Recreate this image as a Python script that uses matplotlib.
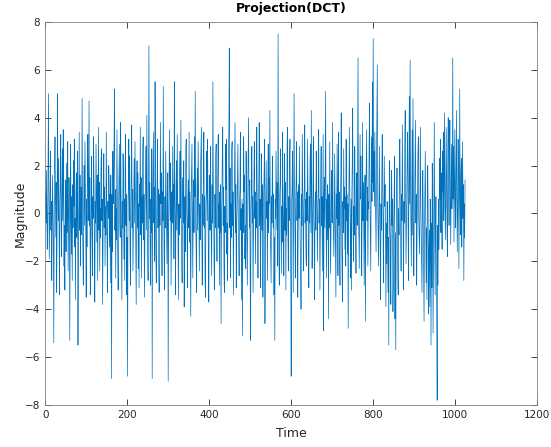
import numpy as np
import matplotlib
matplotlib.use("Agg")
import matplotlib.pyplot as plt

# 1. data (32 samples per row)
magnitude = [
    0.9, -0.4, 1.8, 0.3, -1.5, -0.6, 2.4, 5.0, 0.8, -1.9, -0.2, 1.1, 2.6, -0.7, 0.5, -2.8,
    -0.9, 1.6, 0.2, -1.3, -5.4, -0.5, 2.0, 3.2, 0.6, -1.0, 1.3, -3.3, -0.8, 5.0, 1.7, -0.3,
    2.3, -1.1, -3.4, 0.4, 1.2, 3.3, -0.6, -1.8, 0.9, 2.7, -0.3, 3.5, 1.0, -2.2, -0.5, -3.2,
    1.4, 0.2, -1.6, 2.1, -0.8, 0.6, 3.0, -2.4, -0.4, 1.5, 0.8, -5.3, -1.2, 2.9, 0.1, -1.7,
    0.7, -2.8, 1.2, -0.6, 2.2, 0.3, 3.1, -1.4, -0.2, -3.6, 0.9, 1.7, -1.0, 0.4, 2.6, -5.5,
    -1.3, 0.5, 3.4, -0.7, 1.6, -2.2, 0.1, 1.1, -0.9, 4.8, 0.6, -1.8, -3.0, 0.3, 2.0, -0.5,
    3.0, 1.2, -0.8, -3.5, 0.6, -1.4, 1.9, 3.3, -0.3, 0.8, 4.7, -0.5, 1.5, -3.4, -1.1, 0.2,
    2.4, -0.9, -2.6, 0.7, -0.2, 3.2, 1.3, -1.6, -3.7, 0.5, -0.4, 2.9, 0.9, -1.2, 1.6, -2.8,
    0.4, 3.6, -0.7, 1.3, -2.4, 0.2, -1.0, 1.8, 2.7, -0.3, 0.6, -3.8, -1.2, 0.9, 2.5, -0.6,
    1.1, -2.2, 0.3, -0.9, 3.4, 0.7, -1.5, -3.3, 0.5, -0.2, 2.0, 1.2, -1.4, 0.8, -2.9, 1.6,
    -0.5, -6.9, 0.8, -1.6, 2.6, 0.4, 1.4, 3.0, 5.2, -0.7, 1.0, -2.7, 0.2, -1.1, 3.5, 0.6,
    -1.8, -3.2, 0.3, 1.7, 2.9, -0.4, -1.0, 3.8, 0.9, -1.2, -3.6, 0.5, -0.6, 2.5, 1.1, -1.9,
    0.6, -2.8, 1.9, 3.3, -0.5, 0.8, -3.4, -1.0, -6.8, 0.4, 1.2, 3.1, -0.3, 2.4, -1.5, -3.0,
    0.2, 1.7, 3.7, -0.6, 1.0, -2.4, -0.8, 0.6, 2.3, -0.4, 3.0, 0.9, -1.3, -3.8, 0.5, 2.2,
    -0.6, 1.7, -2.3, 0.4, -3.1, 1.2, 0.3, 3.6, -0.9, 1.5, -2.7, 0.7, -0.4, 2.5, 3.2, -1.1,
    0.8, -3.5, -1.2, 0.5, 1.5, 2.8, -0.7, 4.1, 0.3, -1.6, -2.8, 0.9, 7.0, -0.2, 1.3, -1.6,
    -3.0, 0.6, -0.8, 2.7, -6.9, 0.5, 1.8, 3.4, -0.4, 1.1, -2.0, 5.5, 0.7, -1.7, -2.9, 0.3,
    1.4, 3.1, -0.6, 1.0, -2.2, -3.3, 0.8, -0.5, 3.8, 0.4, 1.7, -1.4, -2.6, 0.9, -0.3, 5.3,
    0.5, -1.8, -3.2, 0.7, -0.6, 2.6, 1.0, -0.9, -2.1, 0.8, 1.7, -7.0, -0.8, 0.6, 3.5, 1.4,
    -0.3, 2.1, -3.0, -1.1, 0.9, -0.4, 2.8, 0.3, 1.2, -1.9, 5.5, 0.6, -0.5, -3.4, 1.0, 2.2,
    -0.7, 3.3, 0.9, -1.3, -3.6, 0.4, -0.9, 1.7, 2.6, -0.2, 3.9, 0.6, -1.8, -2.9, 0.5, 1.5,
    -0.4, 2.2, -3.9, -0.8, 0.7, -1.6, 2.7, 3.1, 0.2, -0.5, -3.1, 0.8, 1.4, -0.6, 3.4, -1.2,
    0.9, -2.0, -4.3, 0.6, 1.8, 2.9, -0.5, -2.7, 0.3, 1.4, -0.8, 3.2, 0.7, 5.1, -0.4, -1.2,
    -3.3, 0.5, 1.9, -0.7, 3.0, 1.3, -0.3, -2.4, 0.4, -1.1, 1.9, 2.7, 3.6, -0.6, -3.0, 0.8,
    -0.5, 2.2, 3.4, -0.6, 0.7, -2.9, -3.5, 0.4, 1.0, 2.6, -0.3, 3.1, 0.9, -2.1, -3.7, 0.2,
    1.6, -0.7, 2.8, 0.5, -0.9, -2.6, 1.2, -0.4, 5.5, 1.1, 0.3, -2.3, -3.2, 0.8, -0.6, 2.4,
    2.9, -0.4, -2.0, 0.7, 1.8, 3.3, -0.6, 0.4, -3.0, 0.9, -0.8, 1.2, -4.6, -0.3, 0.6, 2.5,
    3.6, -0.5, 1.1, -2.2, -3.3, 0.3, -0.8, 2.9, 1.0, 3.1, -1.7, -0.4, -2.8, 0.7, 2.6, 3.5,
    6.9, -0.6, 1.9, -2.7, 0.4, -1.0, 2.7, 3.0, -0.5, 0.9, -3.4, -0.3, 0.7, 2.3, 3.8, -0.8,
    1.2, -3.1, -0.6, 0.3, 1.6, 2.9, -0.4, -1.2, -2.6, 0.5, 1.0, 3.4, -0.7, 0.2, -3.6, 0.6,
    -5.1, 0.4, -0.8, 3.2, 0.9, 1.6, -1.9, -0.5, -2.3, 2.6, 0.3, -1.3, -3.0, 0.6, 2.1, 4.0,
    0.8, -0.6, 1.4, -2.9, -5.3, 0.2, 1.1, 2.8, -0.4, 0.7, -3.3, -0.9, 1.3, 3.0, -0.2, 0.9,
    -2.1, 0.5, -0.6, 3.6, 1.0, -0.3, -2.7, 0.8, 1.4, 3.8, -0.5, 0.6, -3.1, -1.0, 2.5, 0.3,
    -0.7, 1.2, -3.5, -0.4, 0.9, 1.8, 3.1, -4.6, -0.6, 0.8, 2.2, -0.2, 0.5, -2.8, 1.3, 2.9,
    -0.8, 1.5, 0.4, 4.3, -0.5, -1.8, -2.9, 0.7, -0.4, 2.4, 1.1, -0.6, 0.8, -3.4, -1.0, -5.3,
    0.6, -0.2, 2.6, 0.9, -0.7, 1.3, -2.2, 7.5, 0.5, -1.9, -3.0, 0.8, 1.4, 2.7, -0.5, -2.5,
    0.3, -1.2, 3.4, 0.6, -0.4, -2.6, 0.9, 2.5, -0.7, 1.3, -3.2, 0.2, -0.9, 2.9, 3.6, -0.5,
    -2.4, 0.7, -0.3, 2.2, 3.1, -0.6, -2.8, -6.8, 0.4, 1.0, 2.6, -0.8, -3.3, 0.5, 5.0, 0.8,
    -0.5, -2.7, 0.6, 1.4, 3.0, -0.3, 0.9, -3.5, -0.6, 1.2, -0.2, 2.8, 0.7, -1.4, -2.1, -4.0,
    0.8, -0.5, 3.3, 1.0, -0.7, -2.4, 0.4, 1.1, 3.7, -0.4, 0.6, -1.8, -2.2, 0.9, -0.3, 3.1,
    0.5, -1.9, -3.1, 0.7, -0.4, 2.2, 2.9, -0.8, 4.3, 0.6, -2.3, -0.5, 0.8, 3.2, -0.3, -1.0,
    -3.6, 0.4, 0.9, -0.7, 2.6, 1.2, -0.6, -2.0, 0.3, 1.0, 3.5, -0.4, 0.6, -3.2, -0.9, 1.4,
    2.8, -0.5, 0.7, -2.4, 0.3, 3.3, -4.9, 0.5, 1.5, -0.6, 2.4, 5.1, -0.2, -2.7, 0.6, -1.1,
    1.2, -0.3, -4.4, 0.8, -0.6, 3.0, 0.4, -2.5, -0.7, 0.9, 1.8, -0.4, 3.8, 0.3, -0.9, -1.8,
    -0.6, 2.5, 0.4, -1.3, -3.5, 0.8, -0.2, 2.9, 0.6, -2.6, 3.4, -0.5, 0.9, -1.9, -3.0, 0.3,
    1.6, 4.2, -0.4, -2.4, -3.7, 0.5, -0.8, 2.7, 0.2, 1.1, -1.5, 0.7, -2.2, 3.1, -0.3, 0.8,
    -1.7, 0.4, -4.8, -0.3, 1.9, 3.6, 0.5, -0.8, -2.7, 0.6, -3.2, 0.9, 2.3, 4.4, -0.6, -2.0,
    0.3, -0.9, 2.8, 0.5, -0.4, -2.5, 0.8, 1.7, -0.5, 3.0, 6.5, 0.3, -1.1, -2.3, 0.9, 3.3,
    0.6, 2.4, -0.5, -2.6, 0.9, 3.8, -0.3, 1.3, -0.6, -3.0, 0.4, 1.6, -4.5, 0.7, 2.2, 3.5,
    -0.3, 1.1, -2.2, 0.5, 0.2, 2.9, 4.6, 0.8, -0.8, -2.4, 1.0, 3.2, 0.5, 5.5, 1.3, 7.3,
    0.9, 2.6, 0.3, 3.4, 1.2, -0.4, -1.6, 2.0, 4.1, 6.2, 0.5, -0.9, -2.2, 0.6, 2.8, 0.2,
    -1.4, -3.6, 0.4, -0.7, 1.7, 3.3, 0.9, -0.5, -2.9, 0.6, 2.4, 0.3, 1.2, -0.8, -3.9, -0.4,
    -2.1, 0.5, -0.6, -3.3, -1.0, -5.5, 0.4, 2.2, -0.7, -1.2, -3.8, 0.3, 1.8, -0.5, 0.6, -4.1,
    -3.0, -0.4, 0.7, 2.4, -4.4, -0.8, -5.7, -1.3, 0.6, 1.9, -0.3, -2.7, -3.4, 0.2, -0.9, 2.6,
    3.1, 0.4, -0.6, -2.4, 0.8, -0.3, 3.7, 0.9, -0.7, -3.2, 0.5, -0.4, 2.9, 4.3, 0.6, -2.1,
    -0.6, 0.8, 2.5, 3.4, -0.2, -2.8, 0.7, 4.9, 0.4, 6.4, 1.2, -0.5, -2.2, 0.9, 3.5, -0.9,
    4.8, 0.7, -2.6, -0.3, 0.5, 2.1, 3.9, -0.4, 0.8, -3.0, -0.6, 0.7, 2.4, 3.2, -0.2, -0.9,
    -1.7, 0.6, 3.6, 0.4, -0.9, -2.5, -3.3, 0.8, 1.8, -0.4, -2.2, -4.5, -0.8, 1.0, 2.6, -0.4,
    -2.9, -0.6, -3.6, 0.5, 2.0, -0.3, -4.2, -1.6, -0.7, -3.9, 0.6, -1.2, -5.5, -0.4, -3.1, 2.1,
    -0.8, -5.0, -2.3, 0.4, 3.8, -1.0, -3.4, -0.6, 0.7, -2.6, -4.4, -7.8, -0.5, -3.0, 0.6, -1.5,
    -0.4, 2.3, 0.6, 3.1, -0.8, 1.7, 0.3, -1.5, 2.6, 0.9, 3.4, -0.3, 1.1, 4.2, 0.7, -1.1,
    0.5, 3.6, 1.3, -0.6, -1.8, 2.7, 4.0, 0.8, -0.5, 2.4, 3.9, 0.6, -1.3, 1.0, 2.9, 0.2,
    1.9, 6.5, 0.6, 2.8, -1.2, 1.0, 3.5, 0.4, -0.6, 2.2, 4.3, 0.7, -1.6, 0.2, 3.1, 1.5,
    -2.3, 0.8, 5.2, 0.3, -0.9, 1.7, 2.3, -1.4, 0.5, 3.0, -0.2, 1.2, -2.8, 0.4, -1.0, 1.4,
]
time = np.arange(1, len(magnitude) + 1)

x_ticks = [0, 200, 400, 600, 800, 1000, 1200]
y_ticks = [-8, -6, -4, -2, 0, 2, 4, 6, 8]

# 2. plot
fig = plt.figure(figsize=(5.51, 4.47), dpi=100)
ax = fig.add_axes([0.082, 0.094, 0.893, 0.857])
ax.plot(time, magnitude, color="#0072BD", linewidth=0.5)

ax.set_xlim(0, 1200)
ax.set_ylim(-8, 8)
ax.set_xticks(x_ticks)
ax.set_yticks(y_ticks)
ax.tick_params(direction="in", top=True, right=True, length=4, width=0.6,
               labelsize=7.5, colors="#262626")
for s in ax.spines.values():
    s.set_color("#808080")
    s.set_linewidth(0.6)

ax.set_title("Projection(DCT)", fontsize=9, fontweight="bold", color="black", pad=7)
ax.set_xlabel("Time", fontsize=9, color="#262626", labelpad=5)
ax.set_ylabel("Magnitude", fontsize=9, color="#262626", labelpad=-1.5)

fig.savefig("out.png", dpi=100)
